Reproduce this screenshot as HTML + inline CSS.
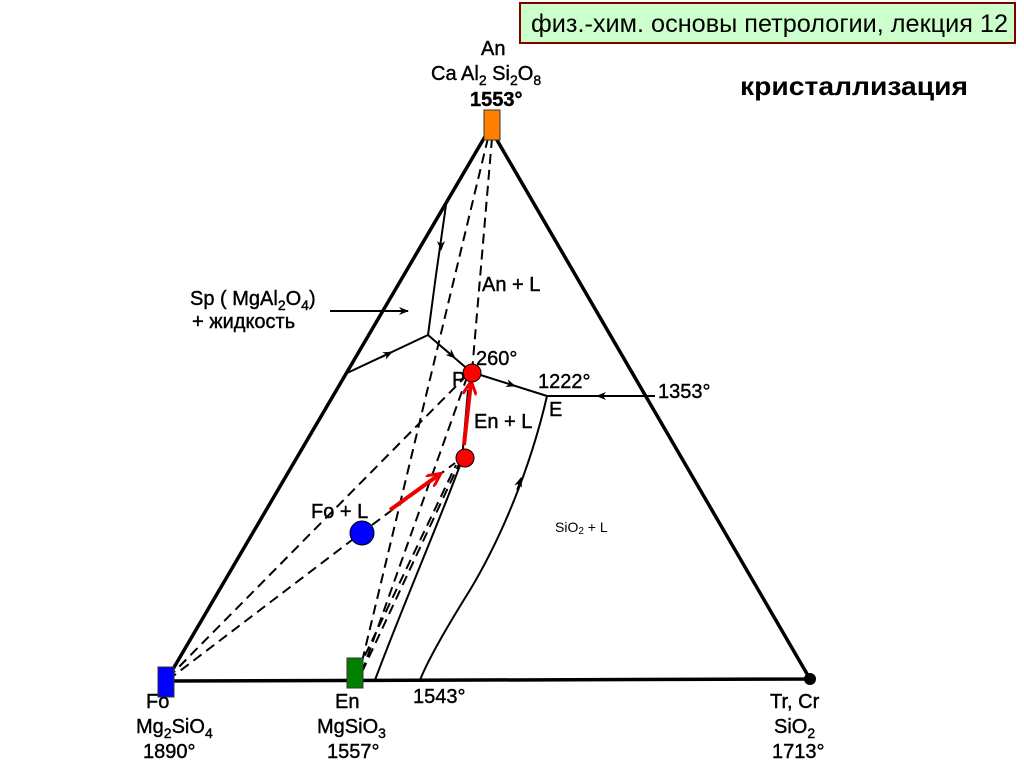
<!DOCTYPE html>
<html><head><meta charset="utf-8"><style>
html,body{margin:0;padding:0;background:#fff;}
svg{display:block;}
text{font-family:"Liberation Sans","DejaVu Sans",sans-serif;fill:#000;}
</style></head><body>
<svg width="1024" height="768" viewBox="0 0 1024 768" xmlns="http://www.w3.org/2000/svg">
<defs>
<marker id="ah" markerWidth="10" markerHeight="8" refX="9" refY="4" orient="auto" markerUnits="userSpaceOnUse"><path d="M0,0 L10,4 L0,8 L3,4 Z" fill="#000"/></marker>
<marker id="rh" markerWidth="16" markerHeight="14" refX="13" refY="7" orient="auto" markerUnits="userSpaceOnUse"><path d="M0,0 L14,7 L0,14" fill="none" stroke="#e00" stroke-width="3"/></marker>
</defs>
<rect x="520" y="3" width="495" height="40" fill="#ccffcc" stroke="#800000" stroke-width="2"/>
<text x="531" y="32" font-size="25" textLength="477" lengthAdjust="spacingAndGlyphs">физ.-хим. основы петрологии, лекция 12</text>
<text x="740" y="95" font-size="26" font-weight="bold" textLength="228" lengthAdjust="spacingAndGlyphs">кристаллизация</text>

<g stroke="#000" fill="none">
<path d="M166,681 L490,128 L810,679 Z" stroke-width="3.5" stroke-linejoin="miter"/>
<g stroke-width="2">
<path d="M446,205 L436,275 L428,335"/>
<line x1="441" y1="240" x2="441" y2="250" marker-end="url(#ah)" stroke-width="1"/>
<path d="M345,374 L428,335"/>
<line x1="380" y1="358" x2="392" y2="352" marker-end="url(#ah)" stroke-width="1.5"/>
<path d="M428,335 L471,372"/>
<line x1="446" y1="350" x2="455" y2="358" marker-end="url(#ah)" stroke-width="1.5"/>
<path d="M471,372 L547,396"/>
<line x1="500" y1="381" x2="515" y2="386" marker-end="url(#ah)" stroke-width="1.5"/>
<path d="M547,396 L655,396"/>
<line x1="610" y1="396" x2="597" y2="396" marker-end="url(#ah)" stroke-width="1.5"/>
<path d="M547,396 C530,470 500,540 470,590 C445,630 428,660 420,680"/>
<line x1="517" y1="490" x2="521" y2="478" marker-end="url(#ah)" stroke-width="1.5"/>
<path d="M468,390 L462,460 C440,520 405,600 375,680"/>
<path d="M330,311 L408,311" marker-end="url(#ah)"/>
</g>
<g stroke-width="2" stroke-dasharray="10,6">
<line x1="492" y1="138" x2="472" y2="372"/>
<line x1="488" y1="138" x2="360" y2="670"/>
<line x1="168" y1="678" x2="470" y2="372"/>
<line x1="168" y1="680" x2="352" y2="540"/>
<line x1="372" y1="525" x2="455" y2="463"/>
<line x1="362" y1="672" x2="466" y2="380"/>
<line x1="362" y1="672" x2="460" y2="462"/>
<line x1="358" y1="670" x2="456" y2="465"/>
</g>
</g>
<line x1="390" y1="510" x2="440" y2="474" stroke="#e00" stroke-width="4" marker-end="url(#rh)"/>
<line x1="464" y1="445" x2="471" y2="382" stroke="#e00" stroke-width="4" marker-end="url(#rh)"/>
<rect x="484" y="110" width="16" height="30" fill="#ff7f00" stroke="#333" stroke-width="1"/>
<rect x="158" y="667" width="16" height="30" fill="#0000ff" stroke="#333" stroke-width="1"/>
<rect x="347" y="658" width="16" height="30" fill="#008000" stroke="#333" stroke-width="1"/>
<circle cx="810" cy="679" r="6" fill="#000"/>
<circle cx="362" cy="533" r="12" fill="#0000ff" stroke="#000"/>
<circle cx="472" cy="373" r="9" fill="#f00" stroke="#000"/>
<circle cx="465" cy="458" r="9" fill="#f00" stroke="#000"/>

<g font-size="20" stroke="#000" stroke-width="0.4">
<text x="481" y="55">An</text>
<text x="431" y="80">Ca Al<tspan font-size="14" dy="5">2</tspan><tspan dy="-5"> Si</tspan><tspan font-size="14" dy="5">2</tspan><tspan dy="-5">O</tspan><tspan font-size="14" dy="5">8</tspan></text>
<text x="470" y="106" font-weight="bold">1553°</text>
<text x="482" y="291">An + L</text>
<text x="190" y="305">Sp ( MgAl<tspan font-size="14" dy="5">2</tspan><tspan dy="-5">O</tspan><tspan font-size="14" dy="5">4</tspan><tspan dy="-5">)</tspan></text>
<text x="192" y="328">+ жидкость</text>
<text x="476" y="365">260°</text>
<text x="452" y="386">P</text>
<text x="538" y="388">1222°</text>
<text x="549" y="416">E</text>
<text x="658" y="398">1353°</text>
<text x="474" y="428">En + L</text>
<text x="311" y="518">Fo + L</text>
<text x="146" y="708">Fo</text>
<text x="136" y="733">Mg<tspan font-size="14" dy="5">2</tspan><tspan dy="-5">SiO</tspan><tspan font-size="14" dy="5">4</tspan></text>
<text x="143" y="758">1890°</text>
<text x="335" y="708">En</text>
<text x="317" y="733">MgSiO<tspan font-size="14" dy="5">3</tspan></text>
<text x="327" y="758">1557°</text>
<text x="413" y="703">1543°</text>
<text x="770" y="708">Tr, Cr</text>
<text x="774" y="733">SiO<tspan font-size="14" dy="5">2</tspan></text>
<text x="772" y="758">1713°</text>
</g>
<text x="555" y="532" font-size="14">SiO<tspan font-size="10" dy="2">2</tspan><tspan dy="-2"> + L</tspan></text>
</svg>
</body></html>
